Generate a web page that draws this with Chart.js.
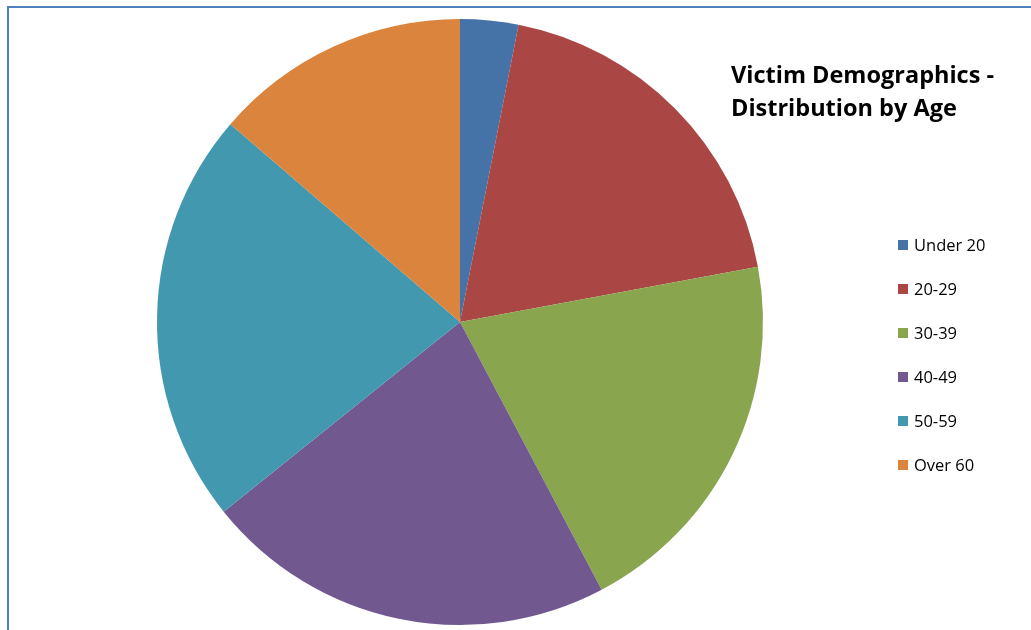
<!DOCTYPE html>
<html>
<head>
<meta charset="utf-8">
<script src="https://cdn.jsdelivr.net/npm/chart.js@4/dist/chart.umd.min.js"></script>
<style>
  html, body { margin: 0; padding: 0; background: #fff; }
  #wrap { position: relative; width: 1031px; height: 630px; }
  #c { position: absolute; left: 0; top: 0; }
</style>
</head>
<body>
<div id="wrap"><canvas id="c" width="1031" height="630"></canvas></div>
<script>
const categories = ["Under 20", "20-29", "30-39", "40-49", "50-59", "Over 60"];
const values = [3.1, 19.0, 20.2, 22.0, 22.1, 13.7];
const colors = ["#4572A7", "#AA4643", "#89A54E", "#71588F", "#4198AF", "#DB843D"];
const titleLines = ["Victim Demographics -", "Distribution by Age"];

const FONT = "'Open Sans', 'Noto Sans', sans-serif";

const overlay = {
  id: 'overlay',
  beforeDraw(chart) {
    const ctx = chart.ctx;
    ctx.save();
    ctx.fillStyle = '#fff';
    ctx.fillRect(0, 0, chart.width, chart.height);
    ctx.strokeStyle = '#4F81BD';
    ctx.lineWidth = 2;
    ctx.beginPath();
    ctx.moveTo(8, 630);
    ctx.lineTo(8, 7);
    ctx.lineTo(1031, 7);
    ctx.stroke();
    ctx.restore();
  },
  afterDraw(chart) {
    const ctx = chart.ctx;
    ctx.save();
    ctx.fillStyle = '#000';
    ctx.font = "bold 23.5px " + FONT;
    ctx.textBaseline = 'middle';
    ctx.textAlign = 'left';
    titleLines.forEach((t, i) => ctx.fillText(t, 731, 76 + i * 33));
    ctx.font = "16.5px " + FONT;
    const labels = chart.data.labels;
    const bg = chart.data.datasets[0].backgroundColor;
    labels.forEach((l, i) => {
      const y = 245 + i * 44;
      ctx.fillStyle = bg[i];
      ctx.fillRect(898, y - 5, 10, 10);
      ctx.fillStyle = '#000';
      ctx.fillText(l, 914, y + 1);
    });
    ctx.restore();
  }
};

new Chart(document.getElementById('c'), {
  type: 'pie',
  data: {
    labels: categories,
    datasets: [{
      data: values,
      backgroundColor: colors,
      borderWidth: 0
    }]
  },
  options: {
    responsive: false,
    animation: false,
    layout: { padding: { left: 157, right: 268, top: 19, bottom: 5 } },
    plugins: {
      legend: { display: false },
      title: { display: false },
      tooltip: { enabled: false }
    }
  },
  plugins: [overlay]
});
</script>
</body>
</html>
